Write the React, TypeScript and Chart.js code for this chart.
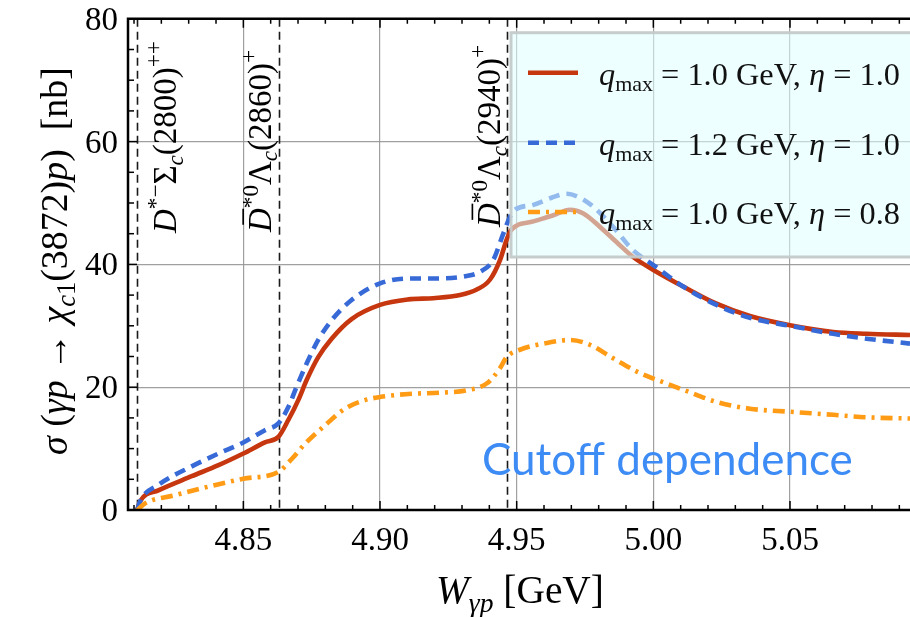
import React, { useEffect, useRef } from 'react';
import { Chart, registerables } from 'chart.js';

Chart.register(...registerables);

const SERIF = '"Liberation Serif", "DejaVu Serif", "Times New Roman", serif';
const SANS = 'Lato, "Open Sans", "Noto Sans", sans-serif';

// Axis ranges and ticks
const xMin = 4.8078;
const xMax = 5.0939;
const yMin = 0;
const yMax = 80;
const xTickValues = [4.85, 4.9, 4.95, 5.0, 5.05];
const xTickLabels = ['4.85', '4.90', '4.95', '5.00', '5.05'];
const yTickValues = [0, 20, 40, 60, 80];
const yTickLabels = ['0', '20', '40', '60', '80'];

// Thresholds (GeV)
const thresholdW = [4.8112, 4.863, 4.9465];

// q_max = 1.0 GeV, eta = 1.0 (red solid)
const redW = [4.8112, 4.8122, 4.8189, 4.8311, 4.8409, 4.85, 4.8579, 4.8628, 4.8665, 4.8701, 4.8732, 4.8774, 4.8823, 4.8896, 4.9, 4.9104, 4.9195, 4.9293, 4.9354, 4.9402, 4.9439, 4.9463, 4.948, 4.9561, 4.9634, 4.9695, 4.9744, 4.9805, 4.9866, 4.9926, 5.0, 5.0109, 5.0231, 5.0353, 5.05, 5.0658, 5.078, 5.0939];
const redSigma = [0, 1.4, 3.2, 5.5, 7.3, 9.2, 11.0, 11.9, 14.7, 17.9, 21.2, 24.9, 27.9, 31.1, 33.4, 34.3, 34.5, 35.0, 35.9, 37.5, 40.7, 44.0, 45.6, 47.0, 48.0, 48.9, 48.3, 46.1, 43.6, 41.2, 39.1, 36.4, 33.6, 31.6, 30.1, 29.0, 28.7, 28.5];

// q_max = 1.2 GeV, eta = 1.0 (blue dashed)
const blueW = [4.8112, 4.8122, 4.8189, 4.8311, 4.8409, 4.85, 4.8579, 4.8628, 4.8665, 4.8695, 4.8732, 4.8774, 4.8823, 4.8896, 4.9, 4.9104, 4.9195, 4.9317, 4.9366, 4.9414, 4.9451, 4.9476, 4.9494, 4.9561, 4.963, 4.9683, 4.973, 4.978, 4.9853, 4.9926, 5.0, 5.0109, 5.0231, 5.0353, 5.05, 5.0658, 5.078, 5.0939];
const blueSigma = [0, 1.4, 4.1, 7.1, 9.2, 11.0, 13.0, 14.1, 16.8, 20.1, 23.9, 27.7, 30.9, 34.2, 36.9, 37.7, 37.7, 38.1, 38.8, 40.7, 45.0, 47.8, 48.9, 49.7, 50.9, 51.5, 50.9, 49.4, 46.1, 42.3, 39.9, 36.4, 33.4, 31.3, 30.0, 28.7, 27.9, 27.1];

// q_max = 1.0 GeV, eta = 0.8 (orange dash-dot)
const orangeW = [4.8112, 4.8141, 4.825, 4.8372, 4.85, 4.8628, 4.8677, 4.8726, 4.8799, 4.8872, 4.8945, 4.9, 4.9104, 4.9219, 4.9317, 4.939, 4.9439, 4.9463, 4.9512, 4.961, 4.9695, 4.9768, 4.9853, 4.9951, 5.0049, 5.012, 5.0231, 5.0353, 5.05, 5.0658, 5.078, 5.0939];
const orangeSigma = [0, 1.1, 2.4, 3.8, 5.1, 6.2, 8.3, 10.8, 13.8, 16.5, 17.9, 18.4, 18.9, 19.1, 19.5, 20.6, 23.1, 24.9, 26.1, 27.2, 27.7, 26.9, 24.7, 22.3, 20.6, 19.4, 17.6, 16.5, 16.0, 15.5, 15.1, 14.9];

const qmaxValues = ['1.0', '1.2', '1.0'];
const etaValues = ['1.0', '1.0', '0.8'];
const annotationText = 'Cutoff dependence';

const RED = 'rgb(198,55,15)';
const BLUE = 'rgb(55,105,215)';
const ORANGE = 'rgb(255,155,20)';
const BLUE_DASH = [11, 7];
const ORANGE_DASH = [12, 6, 3, 6];
const LINE_W = 4.6;

type Seg = { t: string; it?: boolean; s?: number; dy?: number; bar?: boolean };

function segFont(size: number, it?: boolean) {
  return `${it ? 'italic ' : ''}${size}px ${SERIF}`;
}
function richWidth(ctx: CanvasRenderingContext2D, segs: Seg[], base: number) {
  let w = 0;
  for (const g of segs) {
    ctx.font = segFont(base * (g.s ?? 1), g.it);
    w += ctx.measureText(g.t).width;
  }
  return w;
}
function drawRich(ctx: CanvasRenderingContext2D, segs: Seg[], x: number, y: number, base: number) {
  let cx = x;
  ctx.textBaseline = 'alphabetic';
  ctx.textAlign = 'left';
  for (const g of segs) {
    const sz = base * (g.s ?? 1);
    ctx.font = segFont(sz, g.it);
    const w = ctx.measureText(g.t).width;
    const yy = y + (g.dy ?? 0) * base;
    ctx.fillText(g.t, cx, yy);
    if (g.bar) {
      ctx.save();
      ctx.strokeStyle = ctx.fillStyle as string;
      ctx.lineWidth = Math.max(1, sz * 0.05);
      ctx.beginPath();
      ctx.moveTo(cx + w * 0.3, yy - sz * 0.84);
      ctx.lineTo(cx + w * 0.98, yy - sz * 0.84);
      ctx.stroke();
      ctx.restore();
    }
    cx += w;
  }
  return cx - x;
}
function fitSize(ctx: CanvasRenderingContext2D, segs: Seg[], target: number) {
  return (100 * target) / richWidth(ctx, segs, 100);
}

const thrLabels: Seg[][] = [
  [{ t: 'D', it: true }, { t: '*−', s: 0.7, dy: -0.4 }, { t: 'Σ' }, { t: 'c', it: true, s: 0.7, dy: 0.2 }, { t: '(2800)' }, { t: '++', s: 0.7, dy: -0.45 }],
  [{ t: 'D', it: true, bar: true }, { t: '*0', s: 0.7, dy: -0.4 }, { t: 'Λ' }, { t: 'c', it: true, s: 0.7, dy: 0.2 }, { t: '(2860)' }, { t: '+', s: 0.7, dy: -0.45 }],
  [{ t: 'D', it: true, bar: true }, { t: '*0', s: 0.7, dy: -0.4 }, { t: 'Λ' }, { t: 'c', it: true, s: 0.7, dy: 0.2 }, { t: '(2940)' }, { t: '+', s: 0.7, dy: -0.45 }],
];
const thrPlace = [
  { dx: 39, y0: 233 },
  { dx: -8, y0: 232 },
  { dx: -7, y0: 227 },
];

const yTitle: Seg[] = [
  { t: 'σ', it: true }, { t: ' (' }, { t: 'γp', it: true }, { t: ' → ' }, { t: 'χ', it: true },
  { t: 'c', it: true, s: 0.7, dy: 0.2 }, { t: '1', s: 0.7, dy: 0.2 }, { t: '(3872)' }, { t: 'p', it: true }, { t: ')  [nb]' },
];
const xTitle: Seg[] = [{ t: 'W', it: true }, { t: 'γp', it: true, s: 0.7, dy: 0.22 }, { t: ' [GeV]' }];

function legendSegs(q: string, e: string): Seg[] {
  return [{ t: 'q', it: true }, { t: 'max', s: 0.68, dy: 0.2 }, { t: ` = ${q} GeV, ` }, { t: 'η', it: true }, { t: ` = ${e}` }];
}

const decor = {
  id: 'decor',
  beforeDatasetsDraw(chart: any) {
    const { ctx, chartArea } = chart;
    const xs = chart.scales.x;
    ctx.save();
    ctx.strokeStyle = '#1a1a1a';
    ctx.lineWidth = 1.6;
    ctx.setLineDash([8, 5]);
    for (const t of thresholdW) {
      const px = Math.round(xs.getPixelForValue(t)) + 0.5;
      ctx.beginPath();
      ctx.moveTo(px, chartArea.top);
      ctx.lineTo(px, chartArea.bottom);
      ctx.stroke();
    }
    ctx.setLineDash([]);
    ctx.fillStyle = '#000';
    thrLabels.forEach((segs, i) => {
      const px = xs.getPixelForValue(thresholdW[i]) + thrPlace[i].dx;
      ctx.save();
      ctx.translate(px, thrPlace[i].y0);
      ctx.rotate(-Math.PI / 2);
      drawRich(ctx, segs, 0, 0, 33);
      ctx.restore();
    });
    ctx.restore();
  },
  afterDatasetsDraw(chart: any) {
    const { ctx, chartArea } = chart;
    const { left, right, top, bottom } = chartArea;
    const xs = chart.scales.x;
    const ys = chart.scales.y;
    ctx.save();
    // legend box
    const bx = 511, by = 32.7, bw = 430, bh = 224.3;
    ctx.fillStyle = 'rgba(224,255,255,0.55)';
    ctx.fillRect(bx, by, bw, bh);
    ctx.strokeStyle = 'rgba(196,202,202,0.95)';
    ctx.lineWidth = 3;
    ctx.strokeRect(bx, by, bw, bh);
    const rowsY = [72.7, 142.7, 212];
    const styles = [
      { c: RED, d: [] as number[] },
      { c: BLUE, d: BLUE_DASH },
      { c: ORANGE, d: ORANGE_DASH },
    ];
    const lsegs0 = legendSegs(qmaxValues[0], etaValues[0]);
    const lsize = fitSize(ctx, lsegs0, 301);
    rowsY.forEach((ry, i) => {
      ctx.strokeStyle = styles[i].c;
      ctx.lineWidth = LINE_W;
      ctx.setLineDash(styles[i].d);
      ctx.beginPath();
      ctx.moveTo(528, ry);
      ctx.lineTo(578, ry);
      ctx.stroke();
      ctx.setLineDash([]);
      ctx.fillStyle = '#111';
      drawRich(ctx, legendSegs(qmaxValues[i], etaValues[i]), 599, ry + 12, lsize);
    });
    // annotation
    ctx.fillStyle = 'rgb(61,139,245)';
    ctx.font = `100px ${SANS}`;
    const aw = ctx.measureText(annotationText).width;
    const asz = (100 * 371) / aw;
    ctx.font = `${asz}px ${SANS}`;
    ctx.textAlign = 'left';
    ctx.textBaseline = 'alphabetic';
    ctx.fillText(annotationText, 482, 475);
    // frame
    ctx.strokeStyle = '#000';
    ctx.lineWidth = 2.5;
    ctx.beginPath();
    ctx.moveTo(right + 2, top);
    ctx.lineTo(left, top);
    ctx.lineTo(left, bottom);
    ctx.lineTo(right + 2, bottom);
    ctx.stroke();
    // ticks
    ctx.lineWidth = 1.5;
    for (let i = 481; i <= 509; i++) {
      const v = i / 100;
      const px = xs.getPixelForValue(v);
      if (px < left || px > right) continue;
      const len = i % 5 === 0 ? 9 : 5;
      ctx.beginPath();
      ctx.moveTo(px, bottom);
      ctx.lineTo(px, bottom - len);
      ctx.moveTo(px, top);
      ctx.lineTo(px, top + len);
      ctx.stroke();
    }
    for (let v = 5; v < 80; v += 5) {
      const py = ys.getPixelForValue(v);
      const len = v % 20 === 0 ? 9 : 6;
      ctx.beginPath();
      ctx.moveTo(left, py);
      ctx.lineTo(left + len, py);
      ctx.stroke();
    }
    // tick labels
    ctx.fillStyle = '#000';
    ctx.font = `33px ${SERIF}`;
    ctx.textBaseline = 'alphabetic';
    ctx.textAlign = 'center';
    xTickValues.forEach((v, i) => {
      ctx.fillText(xTickLabels[i], xs.getPixelForValue(v), 550);
    });
    ctx.textAlign = 'right';
    yTickValues.forEach((v, i) => {
      ctx.fillText(yTickLabels[i], 118, ys.getPixelForValue(v) + 11);
    });
    // titles
    const xsz = fitSize(ctx, xTitle, 168);
    drawRich(ctx, xTitle, 436, 603, xsz);
    const ysz = fitSize(ctx, yTitle, 388);
    ctx.save();
    ctx.translate(67, 455);
    ctx.rotate(-Math.PI / 2);
    drawRich(ctx, yTitle, 0, 0, ysz);
    ctx.restore();
    ctx.restore();
  },
};

export default function App() {
  const ref = useRef<HTMLCanvasElement>(null);
  useEffect(() => {
    if (!ref.current) return;
    const mk = (w: number[], s: number[]) => w.map((x, i) => ({ x, y: s[i] }));
    const chart = new Chart(ref.current, {
      type: 'line',
      data: {
        datasets: [
          {
            label: 'red',
            data: mk(redW, redSigma),
            borderColor: RED,
            borderWidth: LINE_W,
            pointRadius: 0,
            cubicInterpolationMode: 'monotone',
            order: 3,
          },
          {
            label: 'blue',
            data: mk(blueW, blueSigma),
            borderColor: BLUE,
            borderWidth: LINE_W,
            borderDash: BLUE_DASH,
            pointRadius: 0,
            cubicInterpolationMode: 'monotone',
            order: 2,
          },
          {
            label: 'orange',
            data: mk(orangeW, orangeSigma),
            borderColor: ORANGE,
            borderWidth: LINE_W,
            borderDash: ORANGE_DASH,
            pointRadius: 0,
            cubicInterpolationMode: 'monotone',
            order: 1,
          },
        ],
      },
      options: {
        animation: false,
        responsive: false,
        devicePixelRatio: 1,
        layout: { padding: { left: 0, right: 0, top: 18.8, bottom: 0 } },
        plugins: { legend: { display: false }, tooltip: { enabled: false } },
        scales: {
          x: {
            type: 'linear',
            min: xMin,
            max: xMax,
            afterBuildTicks: (s: any) => {
              s.ticks = xTickValues.map((v) => ({ value: v }));
            },
            afterFit: (s: any) => {
              s.height = 107;
            },
            ticks: { display: false },
            grid: { color: 'rgba(150,150,150,0.9)', lineWidth: 1.2, drawTicks: false },
            border: { display: false },
          },
          y: {
            type: 'linear',
            min: yMin,
            max: yMax,
            afterBuildTicks: (s: any) => {
              s.ticks = yTickValues.map((v) => ({ value: v }));
            },
            afterFit: (s: any) => {
              s.width = 128;
            },
            ticks: { display: false },
            grid: {
              color: (c: any) => (c.tick && (c.tick.value === 0 || c.tick.value === 80) ? 'rgba(0,0,0,0)' : 'rgba(150,150,150,0.9)'),
              lineWidth: 1.2,
              drawTicks: false,
            },
            border: { display: false },
          },
        },
      },
      plugins: [decor],
    });
    return () => chart.destroy();
  }, []);
  return (
    <div style={{ position: 'absolute', left: 0, top: 0, width: 910, height: 617, background: '#fff' }}>
      <canvas ref={ref} width={910} height={617} style={{ width: 910, height: 617, display: 'block' }} />
    </div>
  );
}
